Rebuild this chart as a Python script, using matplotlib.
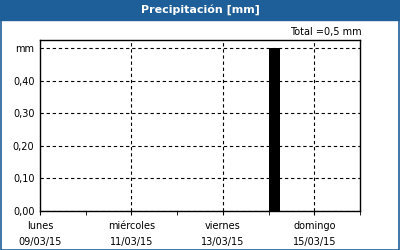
import matplotlib
matplotlib.use("Agg")
import matplotlib.pyplot as plt
from matplotlib.patches import Rectangle

# daily precipitation, one value per day starting 09/03/15
dias = ["lunes", "martes", "miércoles", "jueves", "viernes", "sábado", "domingo"]
fechas = ["09/03/15", "10/03/15", "11/03/15", "12/03/15", "13/03/15", "14/03/15", "15/03/15"]
precip = [0.0, 0.0, 0.0, 0.0, 0.0, 0.5, 0.0]
yticks = [0.0, 0.1, 0.2, 0.3, 0.4, 0.5]
ylabels = ["0,00", "0,10", "0,20", "0,30", "0,40", "mm"]
total = 0.5

blue = "#1f5f99"
plt.rcParams["font.family"] = ["DejaVu Sans"]

fig = plt.figure(figsize=(4, 2.5), dpi=100)
W, H = 400, 250

# title bar and border
fig.patches.append(Rectangle((0, 1 - 20 / H), 1, 20 / H, transform=fig.transFigure,
                             color=blue, zorder=0))
fig.patches.append(Rectangle((0.5 / W, 0.5 / H), 1 - 1.5 / W, 1 - 1 / H, transform=fig.transFigure,
                             fill=False, edgecolor=blue, linewidth=1.2, zorder=0))
fig.text(0.5, 1 - 10 / H, "Precipitación [mm]", ha="center", va="center",
         color="white", fontsize=8, fontweight="bold")

ax = fig.add_axes([40 / W, 1 - 211 / H, 320 / W, 171 / H])
x = list(range(len(precip)))
ax.bar(x, precip, width=0.25, align="edge", color="black", zorder=3)

ax.set_xlim(0, 7)
ax.set_ylim(0, 0.5255)
ax.set_yticks(yticks)
ax.set_yticklabels(ylabels)
ax.set_xticks(x[::2])
ax.set_xticklabels([d + "\n" + f for d, f in zip(dias[::2], fechas[::2])], linespacing=1.75)
ax.set_xticks(range(8), minor=True)

ax.tick_params(axis="y", length=0, pad=4, labelsize=7)
ax.tick_params(axis="x", which="both", length=3, direction="out", pad=4, labelsize=7)
ax.grid(axis="y", color="black", linestyle=(0, (3, 2.5)), linewidth=0.8)
for xv in x[2::2]:
    ax.axvline(xv, color="black", linestyle=(0, (3, 2.5)), linewidth=0.8, zorder=2)
for s in ax.spines.values():
    s.set_linewidth(1)
    s.set_color("black")

fig.text(362 / W, 1 - 32 / H, "Total =%s mm" % str(total).replace(".", ","),
         ha="right", va="center", fontsize=7)

fig.savefig("out.png", dpi=100)
